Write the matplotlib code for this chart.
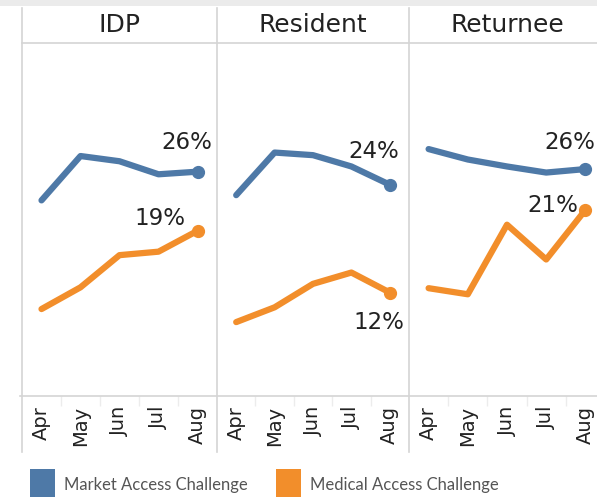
import matplotlib.pyplot as plt
from matplotlib.patches import Rectangle
from matplotlib.lines import Line2D

# data (percent)
months = ['Apr', 'May', 'Jun', 'Jul', 'Aug']
groups = ['IDP', 'Resident', 'Returnee']
market = {
    'IDP': [22.5, 27.6, 27.0, 25.5, 25.8],
    'Resident': [23.1, 28.0, 27.7, 26.4, 24.3],
    'Returnee': [28.4, 27.2, 26.4, 25.7, 26.1],
}
medical = {
    'IDP': [10.0, 12.5, 16.2, 16.6, 19.0],
    'Resident': [8.5, 10.2, 12.9, 14.2, 11.9],
    'Returnee': [12.4, 11.7, 19.7, 15.7, 21.4],
}
series_names = ['Market Access Challenge', 'Medical Access Challenge']

BLUE = '#4e79a7'
ORANGE = '#f28e2b'
GRID = '#d4d4d4'

W, H = 597, 497
fig = plt.figure(figsize=(W / 100, H / 100), dpi=100)


def fx(px):
    return px / W


def fy(py):
    return 1 - py / H


# panel edges in pixels (last panel runs past the right edge)
edges = [22, 217, 409, 605]
top, bottom = 43, 396

# label offsets (pixels) for the last point of each line
offsets = {
    ('IDP', 0): (-11, 29), ('IDP', 1): (-38, 12),
    ('Resident', 0): (-16, 33), ('Resident', 1): (-11, -30),
    ('Returnee', 0): (-16, 27), ('Returnee', 1): (-33, 4),
}

for i, g in enumerate(groups):
    ax = fig.add_axes([fx(edges[i]), fy(bottom), fx(edges[i + 1] - edges[i]), (bottom - top) / H])
    x = list(range(len(months)))
    for k, (vals, col) in enumerate([(market[g], BLUE), (medical[g], ORANGE)]):
        ax.plot(x, vals, color=col, lw=4.5, solid_capstyle='round', solid_joinstyle='round')
        ax.plot(x[-1], vals[-1], 'o', color=col, ms=8.5)
        dx, dy = offsets[(g, k)]
        ax.annotate(f"{round(vals[-1])}%", (x[-1], vals[-1]), xytext=(dx, dy),
                    textcoords='offset pixels', ha='center', va='center',
                    fontsize=16.5, color='#222222')
    ax.set_xlim(-0.5, 4.5)
    ax.set_ylim(0, 40.6)
    ax.set_yticks([])
    ax.set_xticks(x)
    ax.set_xticklabels(months, rotation=90, fontsize=14, color='#222222')
    ax.set_xticks([0.5, 1.5, 2.5, 3.5], minor=True)
    ax.tick_params(axis='x', which='major', length=0, pad=7)
    ax.tick_params(axis='x', which='minor', length=7, color='#ececec', width=1)
    for s in ax.spines.values():
        s.set_visible(False)
    ax.patch.set_alpha(0)
    # header text
    fig.text(fx((edges[i] + edges[i + 1]) / 2), fy(25), g,
             ha='center', va='center', fontsize=18, color='#222222')

# top gray strip
fig.patches.append(Rectangle((0, fy(6)), 1, 1 - fy(6), transform=fig.transFigure,
                             color='#ebebeb', lw=0))

# grid / separator lines
for e in edges[:3]:
    fig.lines.append(Line2D([fx(e), fx(e)], [fy(8), fy(452)], transform=fig.transFigure,
                            color=GRID, lw=1.2))
fig.lines.append(Line2D([fx(22), 1], [fy(top), fy(top)], transform=fig.transFigure, color=GRID, lw=1.2))
fig.lines.append(Line2D([fx(20), 1], [fy(bottom), fy(bottom)], transform=fig.transFigure, color=GRID, lw=1.2))

# legend
for (x0, col, name) in [(30, BLUE, series_names[0]), (276, ORANGE, series_names[1])]:
    fig.patches.append(Rectangle((fx(x0), 0), fx(25), fy(469), transform=fig.transFigure,
                                 color=col, lw=0))
    fig.text(fx(x0 + 34), fy(485), name, ha='left', va='center', fontsize=12,
             color='#555555', family='Lato')

fig.savefig('out.png', dpi=100)
